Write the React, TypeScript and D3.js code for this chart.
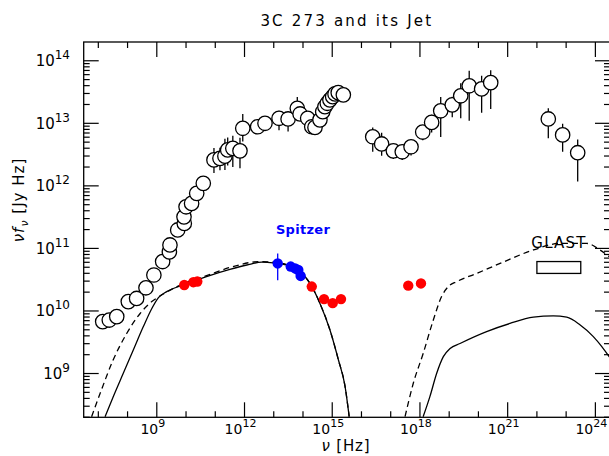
import React, { useEffect, useRef } from "react";
import * as d3 from "d3";

// every value is log10: frequency nu [Hz] and nu*f_nu [Jy Hz]

// open circles: the 3C 273 core
const coreNu = [
  7.15, 7.375, 7.63, 8.025, 8.31, 8.63, 8.9, 9.2, 9.43, 9.45, 9.715, 9.94, 9.93,
  10.0, 10.19, 10.365, 10.59, 10.955, 11.16, 11.33, 11.425, 11.6, 11.845, 11.94,
  12.45, 12.7, 13.18, 13.49, 13.805, 13.9, 14.16, 14.3, 14.41, 14.58, 14.675,
  14.75, 14.83, 14.92, 15.015, 15.095, 15.205, 15.38, 16.385, 16.69, 17.09,
  17.395, 17.695, 18.095, 18.4, 18.71, 19.105, 19.395, 19.685, 20.11, 20.42,
  22.39, 22.88, 23.395,
];
const coreFlux = [
  9.83, 9.855, 9.91, 10.15, 10.2, 10.37, 10.575, 10.79, 10.945, 11.055, 11.295,
  11.4, 11.505, 11.665, 11.72, 11.88, 12.04, 12.415, 12.44, 12.475, 12.575, 12.6,
  12.56, 12.92, 12.945, 13.0, 13.08, 13.07, 13.24, 13.15, 13.08, 12.945, 12.935,
  13.055, 13.185, 13.265, 13.32, 13.375, 13.425, 13.47, 13.49, 13.455, 12.785,
  12.67, 12.56, 12.545, 12.625, 12.86, 13.015, 13.2, 13.295, 13.44, 13.6, 13.55,
  13.65, 13.07, 12.815, 12.53,
];
const coreErrUp = [
  0, 0, 0, 0, 0, 0, 0, 0, 0, 0, 0, 0, 0, 0, 0, 0, 0, 0.19, 0.17, 0.28, 0.2, 0.2,
  0.21, 0.23, 0, 0, 0.12, 0.12, 0.18, 0, 0, 0, 0, 0, 0, 0, 0, 0, 0, 0, 0, 0, 0.15,
  0.18, 0.1, 0.1, 0.1, 0.1, 0.12, 0.22, 0.13, 0.2, 0.24, 0.21, 0.2, 0.17, 0.18,
  0.21,
];
const coreErrDown = [
  0, 0, 0, 0, 0, 0, 0, 0, 0, 0, 0, 0, 0, 0, 0, 0, 0, 0.21, 0.19, 0.22, 0.25, 0.3,
  0.28, 0.21, 0, 0, 0.19, 0.2, 0.05, 0, 0, 0, 0, 0, 0, 0, 0, 0, 0, 0, 0, 0, 0.24,
  0.19, 0.13, 0.13, 0.14, 0.13, 0.16, 0.42, 0.2, 0.36, 0.56, 0.38, 0.42, 0.31,
  0.27, 0.46,
];

// red dots: the jet
const jetNu = [9.94, 10.25, 10.385, 14.3, 14.72, 15.015, 15.3, 17.6, 18.035];
const jetFlux = [10.415, 10.46, 10.47, 10.39, 10.19, 10.125, 10.19, 10.405, 10.44];

// blue dots: Spitzer
const spitzerNu = [13.135, 13.58, 13.73, 13.84, 13.92];
const spitzerFlux = [10.76, 10.71, 10.68, 10.655, 10.56];
const spitzerErrUp = [0.16, 0, 0, 0, 0];
const spitzerErrDown = [0.27, 0, 0, 0, 0];

// model curves
const syncSolidNu = [
  7.23, 7.51, 7.85, 8.2, 8.54, 8.83, 9.05, 9.34, 9.9, 10.7, 11.5, 12.08, 12.59,
  12.98, 13.44, 13.9, 14.24, 14.58, 14.92, 15.21, 15.44, 15.58,
];
const syncSolidFlux = [
  8.31, 8.63, 9.0, 9.38, 9.75, 10.04, 10.21, 10.31, 10.415, 10.55, 10.665, 10.735,
  10.78, 10.77, 10.735, 10.63, 10.44, 10.12, 9.7, 9.22, 8.79, 8.31,
];
const syncDashNu = [
  6.77, 7.06, 7.51, 7.97, 8.43, 8.83, 9.05, 9.9, 10.7, 11.5, 12.54, 13.0, 13.44,
  13.9, 14.24, 14.58, 14.92, 15.21, 15.44, 15.58,
];
const syncDashFlux = [
  8.31, 8.68, 9.22, 9.64, 9.96, 10.15, 10.22, 10.435, 10.565, 10.695, 10.79,
  10.78, 10.74, 10.63, 10.44, 10.12, 9.7, 9.22, 8.79, 8.31,
];
const icDashNu = [
  17.49, 17.77, 18.11, 18.46, 18.74, 18.97, 19.26, 19.94, 20.74, 21.88, 22.79,
  23.7, 24.16, 24.5,
];
const icDashFlux = [
  8.31, 8.84, 9.32, 9.86, 10.23, 10.39, 10.47, 10.6, 10.76, 10.975, 11.08, 11.08,
  10.975, 10.86,
];
const icSolidNu = [
  18.11, 18.34, 18.57, 18.8, 19.03, 19.37, 20.28, 21.08, 21.88, 22.56, 23.02,
  23.47, 23.93, 24.22, 24.5,
];
const icSolidFlux = [
  8.31, 8.63, 9.0, 9.27, 9.4, 9.48, 9.67, 9.8, 9.9, 9.92, 9.9, 9.78, 9.59, 9.43,
  9.25,
];

// GLAST sensitivity box
const glastNu = [22.0, 23.5];
const glastFlux = [10.6, 10.79];

const xTickExps = [9, 12, 15, 18, 21, 24];
const yTickExps = [9, 10, 11, 12, 13, 14];

const FONT = "'DejaVu Sans', sans-serif";

function App() {
  const svgRef = useRef<SVGSVGElement>(null);

  useEffect(() => {
    document.body.style.margin = "0";
    const svg = d3.select(svgRef.current);
    svg.selectAll("*").remove();

    const left = 83.7,
      right = 610,
      top = 42,
      bottom = 417.3;
    const x = d3.scaleLinear().domain([6.5, 24.5]).range([left, right]);
    const y = d3.scaleLinear().domain([8.3, 14.3]).range([bottom, top]);

    svg
      .append("defs")
      .append("clipPath")
      .attr("id", "plot-clip")
      .append("rect")
      .attr("x", left)
      .attr("y", top)
      .attr("width", right - left)
      .attr("height", bottom - top);

    // frame
    svg
      .append("rect")
      .attr("x", left)
      .attr("y", top)
      .attr("width", right - left)
      .attr("height", bottom - top)
      .attr("fill", "none")
      .attr("stroke", "#000")
      .attr("stroke-width", 1.3);

    // ticks, all pointing inward
    const ticks = svg.append("g").attr("stroke", "#000").attr("stroke-width", 1.2);
    const xMinor = d3.range(7, 25).filter((e) => !xTickExps.includes(e));
    xTickExps.forEach((e) => {
      ticks.append("line").attr("x1", x(e)).attr("x2", x(e)).attr("y1", bottom).attr("y2", bottom - 15);
      ticks.append("line").attr("x1", x(e)).attr("x2", x(e)).attr("y1", top).attr("y2", top + 15);
    });
    xMinor.forEach((e) => {
      ticks.append("line").attr("x1", x(e)).attr("x2", x(e)).attr("y1", bottom).attr("y2", bottom - 6);
      ticks.append("line").attr("x1", x(e)).attr("x2", x(e)).attr("y1", top).attr("y2", top + 6);
    });
    const yMinor: number[] = [];
    d3.range(8, 15).forEach((n) =>
      d3.range(2, 10).forEach((k) => {
        const v = n + Math.log10(k);
        if (v >= 8.3 && v <= 14.3) yMinor.push(v);
      })
    );
    yTickExps.forEach((e) => {
      ticks.append("line").attr("x1", left).attr("x2", left + 15).attr("y1", y(e)).attr("y2", y(e));
      ticks.append("line").attr("x1", right).attr("x2", right - 15).attr("y1", y(e)).attr("y2", y(e));
    });
    yMinor.forEach((v) => {
      ticks.append("line").attr("x1", left).attr("x2", left + 6).attr("y1", y(v)).attr("y2", y(v));
      ticks.append("line").attr("x1", right).attr("x2", right - 6).attr("y1", y(v)).attr("y2", y(v));
    });

    // tick labels
    const labels = svg.append("g").attr("font-family", FONT).attr("fill", "#000");
    xTickExps.forEach((e) => {
      const t = labels
        .append("text")
        .attr("x", x(e) - 4)
        .attr("y", 434)
        .attr("text-anchor", "middle")
        .attr("font-size", 14);
      t.append("tspan").text("10");
      t.append("tspan").attr("font-size", 11).attr("dy", -7).text(e);
    });
    yTickExps.forEach((e) => {
      const t = labels
        .append("text")
        .attr("x", 70)
        .attr("y", y(e) + 5.5)
        .attr("text-anchor", "end")
        .attr("font-size", 15);
      t.append("tspan").text("10");
      t.append("tspan").attr("font-size", 12).attr("dy", -7).text(e);
    });

    // axis titles
    svg
      .append("text")
      .attr("x", (left + right) / 2)
      .attr("y", 26)
      .attr("text-anchor", "middle")
      .attr("font-family", FONT)
      .attr("font-size", 15)
      .attr("letter-spacing", 2.2)
      .text("3C 273 and its Jet");

    const xl = svg
      .append("text")
      .attr("x", 346)
      .attr("y", 451)
      .attr("text-anchor", "middle")
      .attr("font-family", FONT)
      .attr("font-size", 15)
      .attr("letter-spacing", 0.8);
    xl.append("tspan").attr("font-style", "italic").text("ν");
    xl.append("tspan").text("\u00a0[Hz]");

    const yl = svg
      .append("text")
      .attr("transform", "translate(24,200) rotate(-90)")
      .attr("text-anchor", "middle")
      .attr("font-family", FONT)
      .attr("font-size", 15)
      .attr("letter-spacing", 1);
    yl.append("tspan").attr("font-style", "italic").text("νf");
    yl.append("tspan").attr("font-style", "italic").attr("font-size", 11).attr("dy", 4).text("ν");
    yl.append("tspan").attr("dy", -4).text("\u00a0[Jy\u00a0Hz]");

    // model curves
    const plot = svg.append("g").attr("clip-path", "url(#plot-clip)");
    const line = d3
      .line<[number, number]>()
      .x((d) => x(d[0]))
      .y((d) => y(d[1]))
      .curve(d3.curveMonotoneX);
    const curves = [
      { nu: syncDashNu, f: syncDashFlux, dash: "6,4" },
      { nu: syncSolidNu, f: syncSolidFlux, dash: null },
      { nu: icDashNu, f: icDashFlux, dash: "6,4" },
      { nu: icSolidNu, f: icSolidFlux, dash: null },
    ];
    curves.forEach((c) => {
      plot
        .append("path")
        .datum(c.nu.map((v, i) => [v, c.f[i]] as [number, number]))
        .attr("fill", "none")
        .attr("stroke", "#000")
        .attr("stroke-width", 1.3)
        .attr("stroke-dasharray", c.dash)
        .attr("d", line);
    });

    // GLAST
    plot
      .append("rect")
      .attr("x", x(glastNu[0]))
      .attr("y", y(glastFlux[1]))
      .attr("width", x(glastNu[1]) - x(glastNu[0]))
      .attr("height", y(glastFlux[0]) - y(glastFlux[1]))
      .attr("fill", "none")
      .attr("stroke", "#000")
      .attr("stroke-width", 1.3);
    svg
      .append("text")
      .attr("x", 559)
      .attr("y", 248)
      .attr("text-anchor", "middle")
      .attr("font-family", FONT)
      .attr("font-size", 15)
      .attr("letter-spacing", 1.2)
      .text("GLAST");

    svg
      .append("text")
      .attr("x", 303)
      .attr("y", 234)
      .attr("text-anchor", "middle")
      .attr("font-family", FONT)
      .attr("font-weight", "bold")
      .attr("font-size", 13)
      .attr("letter-spacing", 0.3)
      .attr("fill", "#0000ff")
      .text("Spitzer");

    // core data: error bars, then open circles
    const core = coreNu.map((v, i) => ({
      nu: v,
      f: coreFlux[i],
      up: coreErrUp[i],
      down: coreErrDown[i],
    }));
    plot
      .append("g")
      .selectAll("line")
      .data(core.filter((d) => d.up > 0 || d.down > 0))
      .join("line")
      .attr("x1", (d) => x(d.nu))
      .attr("x2", (d) => x(d.nu))
      .attr("y1", (d) => y(d.f + d.up))
      .attr("y2", (d) => y(d.f - d.down))
      .attr("stroke", "#000")
      .attr("stroke-width", 1.3);
    plot
      .append("g")
      .selectAll("circle")
      .data(core)
      .join("circle")
      .attr("cx", (d) => x(d.nu))
      .attr("cy", (d) => y(d.f))
      .attr("r", 7.2)
      .attr("fill", "#fff")
      .attr("stroke", "#000")
      .attr("stroke-width", 1.3);

    // jet
    plot
      .append("g")
      .selectAll("circle")
      .data(jetNu.map((v, i) => [v, jetFlux[i]]))
      .join("circle")
      .attr("cx", (d) => x(d[0]))
      .attr("cy", (d) => y(d[1]))
      .attr("r", 5.2)
      .attr("fill", "#ff0000");

    // Spitzer
    const sp = spitzerNu.map((v, i) => ({
      nu: v,
      f: spitzerFlux[i],
      up: spitzerErrUp[i],
      down: spitzerErrDown[i],
    }));
    plot
      .append("g")
      .selectAll("line")
      .data(sp.filter((d) => d.up > 0 || d.down > 0))
      .join("line")
      .attr("x1", (d) => x(d.nu))
      .attr("x2", (d) => x(d.nu))
      .attr("y1", (d) => y(d.f + d.up))
      .attr("y2", (d) => y(d.f - d.down))
      .attr("stroke", "#0000ff")
      .attr("stroke-width", 1.3);
    plot
      .append("g")
      .selectAll("circle")
      .data(sp)
      .join("circle")
      .attr("cx", (d) => x(d.nu))
      .attr("cy", (d) => y(d.f))
      .attr("r", 5.2)
      .attr("fill", "#0000ff");
  }, []);

  return <svg ref={svgRef} width={609} height={456} style={{ display: "block" }}></svg>;
}

export default App;
